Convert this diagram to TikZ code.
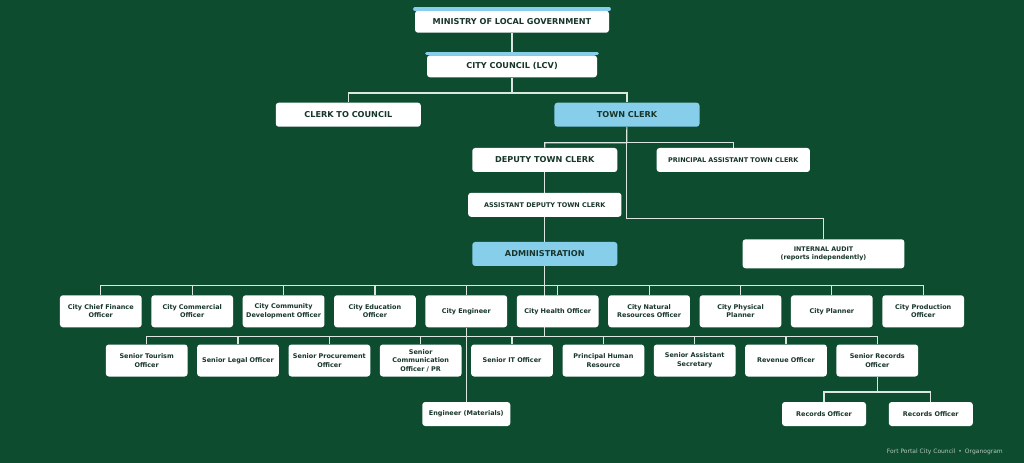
\documentclass[tikz,border=0pt]{standalone}
\usepackage{fontspec}
\setmainfont{DejaVu Sans}
\usetikzlibrary{positioning}
\definecolor{bggreen}{HTML}{0E4C30}
\definecolor{skyblue}{HTML}{87CEEB}
\definecolor{inkdark}{HTML}{17352A}
\definecolor{linkgray}{HTML}{DCE6E0}
\definecolor{footgray}{HTML}{B3C7BB}
\pgfdeclarelayer{background}
\pgfsetlayers{background,main}
\tikzset {
    x=0.75pt, y=-0.75pt,
    box/.style={fill=white, text=inkdark, rounded corners=2.2pt, align=center, inner sep=0pt,
        font=\bfseries\fontsize{4.85}{6.4}\selectfont},
    head/.style={box, minimum height=18pt, font=\bfseries\fontsize{6.1}{7}\selectfont},
    sub/.style={box, minimum height=18pt, font=\bfseries\fontsize{4.85}{6.2}\selectfont},
    unit/.style={box, text width=61.3pt, minimum height=24pt},
    leaf/.style={box, minimum height=18pt},
    hilite/.style={fill=skyblue},
    link/.style={draw=linkgray, line width=0.9pt},
    strip/.style={draw=skyblue, line width=2.4pt, line cap=round}
}

\begin{document}
\begin{tikzpicture}
    \useasboundingbox (0,0) rectangle (1024,463);

    % top of the tree
    \node[head, minimum width=145.5pt, minimum height=16.5pt] (min) at (512,21.7) {MINISTRY OF LOCAL GOVERNMENT};
    \node[head, minimum width=127.5pt, minimum height=16.5pt] (council) at (512,66.3) {CITY COUNCIL (LCV)};
    \node[head, minimum width=108.8pt] (ctc) at (348.3,114.7) {CLERK TO COUNCIL};
    \node[head, hilite, minimum width=108.8pt] (tc) at (627,114.7) {TOWN CLERK};
    \node[head, minimum width=108.8pt] (dtc) at (544.8,160) {DEPUTY TOWN CLERK};
    \node[sub, minimum width=115pt] (patc) at (733.3,160) {PRINCIPAL ASSISTANT TOWN CLERK};
    \node[sub, minimum width=115pt] (adtc) at (544.8,204.8) {ASSISTANT DEPUTY TOWN CLERK};
    \node[head, hilite, minimum width=108.8pt] (admin) at (544.8,254) {ADMINISTRATION};
    \node[sub, minimum width=121.3pt, minimum height=21.8pt, font=\bfseries\fontsize{4.75}{6.2}\selectfont] (audit) at (823.5,253.8) {INTERNAL AUDIT\\(reports independently)};

    % junctions
    \coordinate (bus1) at (512,93);
    \coordinate (bus2) at (626.7,142.7);
    \coordinate (bus3) at (626.7,218.7);
    \coordinate (bus4) at (544.8,285.7);
    \coordinate (bus5) at (544.8,336.7);
    \coordinate (bus6) at (877.3,392);

    % department heads
    \node[unit] (cfo) at (100.8,311.3) {City Chief Finance\\Officer};
    \node[unit] (cco) at (192.2,311.3) {City Commercial\\Officer};
    \node[unit] (ccdo) at (283.6,311.3) {City Community\\Development Officer};
    \node[unit] (ceo) at (374.9,311.3) {City Education\\Officer};
    \node[unit] (eng) at (466.3,311.3) {City Engineer};
    \node[unit] (cho) at (557.7,311.3) {City Health Officer};
    \node[unit] (cnro) at (649.1,311.3) {City Natural\\Resources Officer};
    \node[unit] (cpp) at (740.5,311.3) {City Physical\\Planner};
    \node[unit] (cpl) at (831.8,311.3) {City Planner};
    \node[unit] (cpo) at (923.2,311.3) {City Production\\Officer};

    % senior officers
    \node[unit] (sto) at (146.7,360.5) {Senior Tourism\\Officer};
    \node[unit] (slo) at (238.0,360.5) {Senior Legal Officer};
    \node[unit] (spo) at (329.4,360.5) {Senior Procurement\\Officer};
    \node[unit] (sco) at (420.7,360.5) {Senior\\Communication\\Officer / PR};
    \node[unit] (sit) at (512.0,360.5) {Senior IT Officer};
    \node[unit] (phr) at (603.4,360.5) {Principal Human\\Resource};
    \node[unit] (sas) at (694.7,360.5) {Senior Assistant\\Secretary};
    \node[unit] (rev) at (786.0,360.5) {Revenue Officer};
    \node[unit] (sro) at (877.3,360.5) {Senior Records\\Officer};

    % bottom row
    \node[leaf, minimum width=66pt] (engmat) at (466.3,414) {Engineer (Materials)};
    \node[leaf, minimum width=63pt] (rec1) at (824,414) {Records Officer};
    \node[leaf, minimum width=63pt] (rec2) at (930.8,414) {Records Officer};

    % blue strips
    \draw[strip] ([yshift=1pt]min.north west) -- ([yshift=1pt]min.north east);
    \draw[strip] ([yshift=1pt]council.north west) -- ([yshift=1pt]council.north east);

    \node[anchor=east, text=footgray, font=\fontsize{4.5}{5}\selectfont] (foot) at (1007.5,452) {Fort Portal City Council\enspace•\enspace Organogram};

    % connectors behind the boxes
    \begin{pgfonlayer}{background}
        \fill[bggreen] (0,0) rectangle (1024,463);
        \draw[link] (min) -- (council);
        \draw[link] (council) -- (bus1) -| (ctc);
        \draw[link] (bus1) -| (tc);
        \draw[link] (tc) -- (bus2) -| (dtc);
        \draw[link] (bus2) -| (patc);
        \draw[link] (bus2) -- (bus3) -| (audit);
        \draw[link] (dtc) -- (adtc);
        \draw[link] (adtc) -- (admin);
        \draw[link] (admin) -- (bus4) -| (cfo);
        \foreach \n in {cco, ccdo, ceo, eng, cho, cnro, cpp, cpl, cpo}
            \draw[link] (bus4) -| (\n);
        \draw[link] (bus4) -- (bus5) -| (sto);
        \foreach \n in {slo, spo, sco, sit, phr, sas, rev, sro}
            \draw[link] (bus5) -| (\n);
        \draw[link] (eng) -- (engmat);
        \draw[link] (sro) -- (bus6) -| (rec1);
        \draw[link] (bus6) -| (rec2);
    \end{pgfonlayer}
\end{tikzpicture}
\end{document}
